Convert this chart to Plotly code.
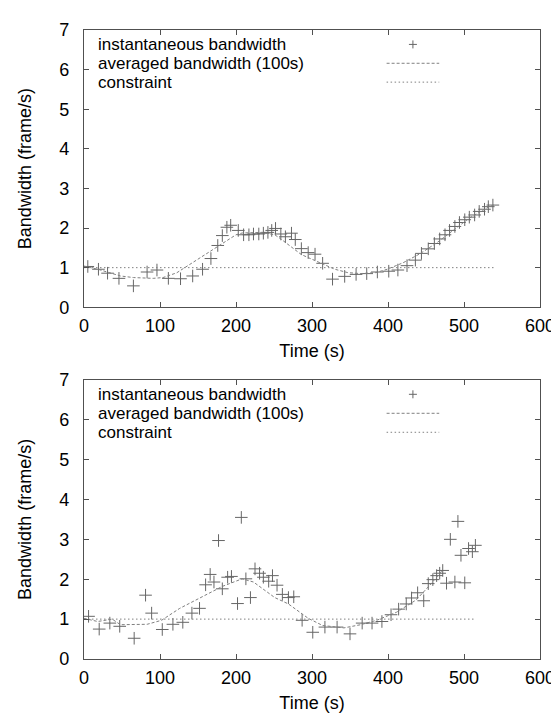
import plotly.graph_objects as go

# ---------------- data ----------------
top_inst_t = [5, 19, 31, 46, 65, 83, 96, 111, 127, 143, 156, 167, 176, 182, 188, 193,
              203, 210, 217, 223, 230, 236, 242, 247, 252, 259, 265, 273, 278, 286, 295,
              304, 314, 327, 343, 358, 372, 386, 401, 413, 425, 436, 444, 453, 461, 468,
              475, 481, 488, 494, 501, 507, 514, 520, 527, 532, 538]
top_inst_v = [1.03, 0.96, 0.86, 0.73, 0.54, 0.89, 0.94, 0.73, 0.72, 0.79, 0.96, 1.23,
              1.56, 1.81, 2.02, 2.07, 1.94, 1.83, 1.83, 1.85, 1.85, 1.87, 1.89, 1.94,
              1.99, 1.85, 1.78, 1.87, 1.71, 1.48, 1.38, 1.34, 1.11, 0.71, 0.78, 0.83,
              0.85, 0.89, 0.91, 0.94, 1.05, 1.19, 1.36, 1.475, 1.61, 1.725, 1.83, 1.94,
              2.04, 2.14, 2.21, 2.275, 2.33, 2.42, 2.475, 2.54, 2.58]

top_avg_t = [0, 20, 48, 65, 91, 104, 122, 130, 165, 200, 208, 234, 251, 260, 286, 314,
             330, 347, 364, 384, 399, 420, 442, 464, 485, 507, 533, 539]
top_avg_v = [1.04, 0.95, 0.79, 0.75, 0.73, 0.75, 0.87, 0.97, 1.39, 1.83, 1.875, 1.89,
             1.83, 1.71, 1.33, 1.10, 0.96, 0.875, 0.85, 0.875, 0.96, 1.125, 1.35, 1.625,
             1.94, 2.25, 2.54, 2.58]

bot_inst_t = [6, 20, 34, 47, 66, 81, 89, 103, 117, 130, 142, 152, 160, 166, 171, 177,
              182, 189, 194, 202, 207, 213, 219, 225, 231, 236, 243, 248, 254, 261, 269,
              276, 287, 301, 317, 333, 350, 366, 379, 392, 404, 414, 424, 431, 439, 447,
              453, 459, 464, 468, 472, 477, 482, 488, 492, 496, 501, 506, 511, 515]
bot_inst_v = [1.07, 0.75, 0.90, 0.82, 0.52, 1.60, 1.15, 0.74, 0.87, 0.92, 1.15, 1.27,
              1.86, 2.12, 1.93, 2.97, 1.76, 2.05, 2.07, 1.39, 3.55, 2.01, 1.54, 2.26,
              2.15, 2.05, 1.95, 2.09, 1.85, 1.62, 1.54, 1.56, 0.97, 0.67, 0.80, 0.80,
              0.63, 0.90, 0.90, 0.94, 1.11, 1.25, 1.38, 1.53, 1.66, 1.46, 1.89, 1.99,
              2.09, 2.15, 2.22, 1.90, 3.00, 1.93, 3.45, 2.60, 1.91, 2.77, 2.69, 2.85]

bot_avg_t = [0, 18, 37, 48, 83, 102, 126, 143, 165, 182, 208, 223, 251, 269, 295, 314,
             342, 364, 385, 411, 437, 455, 472]
bot_avg_v = [1.02, 0.94, 1.00, 0.86, 0.87, 0.97, 1.27, 1.44, 1.66, 1.82, 2.01, 1.93,
             1.54, 1.38, 1.02, 0.84, 0.78, 0.86, 0.97, 1.17, 1.48, 1.85, 2.23]

top_constraint_t = [0, 539]
bot_constraint_t = [0, 515]
constraint_v = [1, 1]

legend_labels = ["instantaneous bandwidth", "averaged bandwidth (100s)", "constraint"]
x_ticks = [0, 100, 200, 300, 400, 500, 600]
y_ticks = [0, 1, 2, 3, 4, 5, 6, 7]

# ---------------- style ----------------
FONT = "Liberation Sans, Arial, Helvetica, sans-serif"
MARK_COL = "#666666"
LINE_COL = "#808080"
DASH = "3px,2px"
DOT = "1.5px,2.5px"

fig = go.Figure()

panels = [
    ("x", "y", top_inst_t, top_inst_v, top_avg_t, top_avg_v, top_constraint_t),
    ("x2", "y2", bot_inst_t, bot_inst_v, bot_avg_t, bot_avg_v, bot_constraint_t),
]

for xa, ya, it, iv, at, av, ct in panels:
    fig.add_trace(go.Scatter(x=it, y=iv, mode="markers", xaxis=xa, yaxis=ya,
                             marker=dict(symbol="cross-thin", size=9,
                                         line=dict(color=MARK_COL, width=1)),
                             showlegend=False))
    fig.add_trace(go.Scatter(x=at, y=av, mode="lines", xaxis=xa, yaxis=ya,
                             line=dict(color=LINE_COL, width=1, dash=DASH),
                             showlegend=False))
    fig.add_trace(go.Scatter(x=ct, y=constraint_v, mode="lines", xaxis=xa, yaxis=ya,
                             line=dict(color=LINE_COL, width=1, dash=DOT),
                             showlegend=False))

axis_common = dict(showline=True, linecolor="#505050", linewidth=1.3, mirror="ticks",
                   ticks="inside", ticklen=5, tickcolor="#505050", tickwidth=1.3,
                   showgrid=False, zeroline=False,
                   tickfont=dict(family=FONT, size=18, color="black"))

xcommon = dict(axis_common, range=[0, 600], tickvals=x_ticks, ticklabelstandoff=2,
               title=dict(text="Time (s)", font=dict(family=FONT, size=18, color="black"),
                          standoff=9))
ycommon = dict(axis_common, range=[0, 7], tickvals=y_ticks, ticklabelstandoff=10,
               title=dict(text="Bandwidth (frame/s)",
                          font=dict(family=FONT, size=18, color="black"), standoff=22))

fig.update_layout(
    width=559, height=713,
    margin=dict(l=76, r=20, t=12, b=59),
    paper_bgcolor="white", plot_bgcolor="white",
    showlegend=False,
    xaxis=dict(xcommon, domain=[0, 1], anchor="y"),
    yaxis=dict(ycommon, domain=[0.5592, 1], anchor="x"),
    xaxis2=dict(xcommon, domain=[0, 1], anchor="y2"),
    yaxis2=dict(ycommon, domain=[0, 0.4439], anchor="x2"),
)

# ---------------- in-plot key (gnuplot style: text left, sample right) ----------------
rows = [0.948, 0.880, 0.812]
sx0, sx1, sxc = 0.6636, 0.7790, 0.7213
annotations = []
shapes = []
for xa, ya in [("x", "y"), ("x2", "y2")]:
    xr, yr = f"{xa} domain", f"{ya} domain"
    for lbl, ry in zip(legend_labels, rows):
        annotations.append(dict(text=lbl, xref=xr, yref=yr, x=0.026, y=ry,
                                xanchor="left", yanchor="middle", showarrow=False,
                                font=dict(family=FONT, size=17, color="black")))
    # "+" sample
    shapes.append(dict(type="line", xref=xr, yref=yr, xsizemode="pixel", xanchor=sxc,
                       x0=-4, x1=4, y0=rows[0], y1=rows[0],
                       line=dict(color=MARK_COL, width=1)))
    shapes.append(dict(type="line", xref=xr, yref=yr, ysizemode="pixel", yanchor=rows[0],
                       y0=-4, y1=4, x0=sxc, x1=sxc,
                       line=dict(color=MARK_COL, width=1)))
    shapes.append(dict(type="line", xref=xr, yref=yr, x0=sx0, x1=sx1, y0=rows[1], y1=rows[1],
                       line=dict(color=LINE_COL, width=1, dash=DASH)))
    shapes.append(dict(type="line", xref=xr, yref=yr, x0=sx0, x1=sx1, y0=rows[2], y1=rows[2],
                       line=dict(color=LINE_COL, width=1, dash=DOT)))

fig.update_layout(annotations=annotations, shapes=shapes)

fig.write_html("out.html")
